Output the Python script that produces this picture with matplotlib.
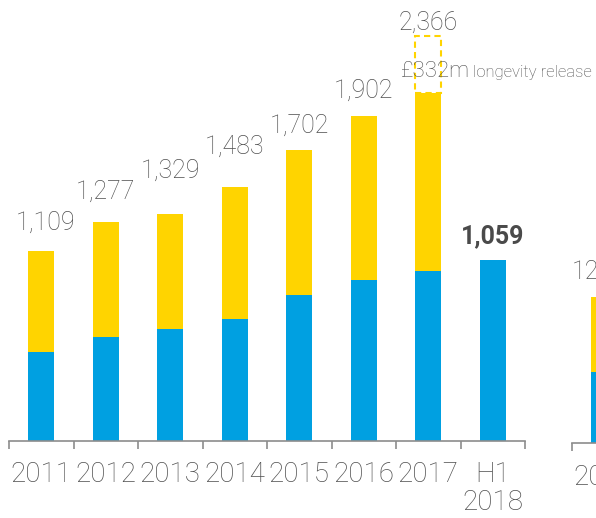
import numpy as np
import matplotlib
matplotlib.use("Agg")
from matplotlib import pyplot as plt
from matplotlib.patches import Rectangle

plt.rcParams['font.family'] = ['Roboto', 'DejaVu Sans']

# data
years = ['2011', '2012', '2013', '2014', '2015', '2016', '2017', 'H1\n2018']
blue_vals = [518, 608, 653, 713, 850, 940, 992, 1059]
totals = [1109, 1277, 1329, 1483, 1702, 1902, 2366, 1059]
total_labels = ['1,109', '1,277', '1,329', '1,483', '1,702', '1,902', '2,366', '1,059']
longevity = 332  # 2017 one-off release, dashed part

# partial second chart at right edge (cut off in the source)
right_years = ['2018']
right_blue = [416]
right_totals = [849]
right_labels = ['12.8%']

# label gap above each bar (points)
label_gap = [15, 17, 26, 24, 12, 13, 5, 11.5]

BLUE = '#00A0E1'
YELLOW = '#FFD400'
GREY = '#4f4f4f'
AXIS = '#8c8c8c'

W, H = 596, 518
fig = plt.figure(figsize=(W / 100, H / 100), dpi=100)


def setup_axis(ax, n):
    ax.set_xlim(-0.5, n - 0.5)
    ax.set_ylim(0, 2579)
    for s in ['top', 'right', 'left']:
        ax.spines[s].set_visible(False)
    ax.spines['bottom'].set_color(AXIS)
    ax.spines['bottom'].set_linewidth(1.2)
    ax.set_yticks([])
    ax.set_xticks(np.arange(n + 1) - 0.5)
    ax.set_xticklabels([])
    ax.tick_params(axis='x', which='major', direction='out', length=6,
                   width=1.2, color=AXIS)
    ax.set_xticks(np.arange(n), minor=True)
    ax.tick_params(axis='x', which='minor', length=0, pad=15,
                   labelsize=20, labelcolor=GREY)
    ax.patch.set_alpha(0)


ax = fig.add_axes([9 / W, 77.5 / H, 516 / W, 440.5 / H])
setup_axis(ax, len(years))
x = np.arange(len(years))
yellow_vals = [t - b for t, b in zip(totals, blue_vals)]
yellow_vals[6] -= longevity
yellow_vals[7] = 0
ax.bar(x, blue_vals, width=0.4, color=BLUE, linewidth=0)
ax.bar(x, yellow_vals, bottom=blue_vals, width=0.4, color=YELLOW, linewidth=0)
ax.set_xticklabels(years, minor=True, fontweight='light', linespacing=1.05)

# dashed longevity box on 2017
base17 = totals[6] - longevity
ax.add_patch(Rectangle((6 - 0.2, base17), 0.4, longevity, fill=False,
                       edgecolor=YELLOW, linestyle=(0, (3, 2)), linewidth=1.5,
                       clip_on=False))

for i, (t, lab) in enumerate(zip(totals, total_labels)):
    bold = i == len(totals) - 1
    ax.annotate(lab, (i, t), xytext=(3 if i == 0 else 0, label_gap[i]),
                textcoords='offset points', ha='center', va='baseline',
                fontsize=18, color='#4a4a4a' if bold else GREY,
                fontweight='bold' if bold else 'light', annotation_clip=False)

ax.annotate('£332m', (6, base17 + longevity / 2), xytext=(-20, -9),
            textcoords='offset points', ha='left', va='baseline', fontsize=16,
            color=GREY, fontweight='light', annotation_clip=False)
ax.annotate('longevity release', (6, base17 + longevity / 2), xytext=(32, -9),
            textcoords='offset points', ha='left', va='baseline', fontsize=12,
            color=GREY, fontweight='light', annotation_clip=False)

# right-hand, cut off chart
ax2 = fig.add_axes([572 / W, 75 / H, 516 / W, 443 / H])
setup_axis(ax2, 8)
ax2.bar([0], right_blue, width=0.4, color=BLUE, linewidth=0)
ax2.bar([0], [right_totals[0] - right_blue[0]], bottom=right_blue, width=0.4,
        color=YELLOW, linewidth=0)
ax2.set_xticklabels(right_years + [''] * 7, minor=True, fontweight='light')
ax2.annotate(right_labels[0], (0, right_totals[0]), xytext=(0, 13),
             textcoords='offset points', ha='center', va='baseline',
             fontsize=18, color=GREY, fontweight='light', annotation_clip=False)

fig.savefig('out.png', dpi=100)
